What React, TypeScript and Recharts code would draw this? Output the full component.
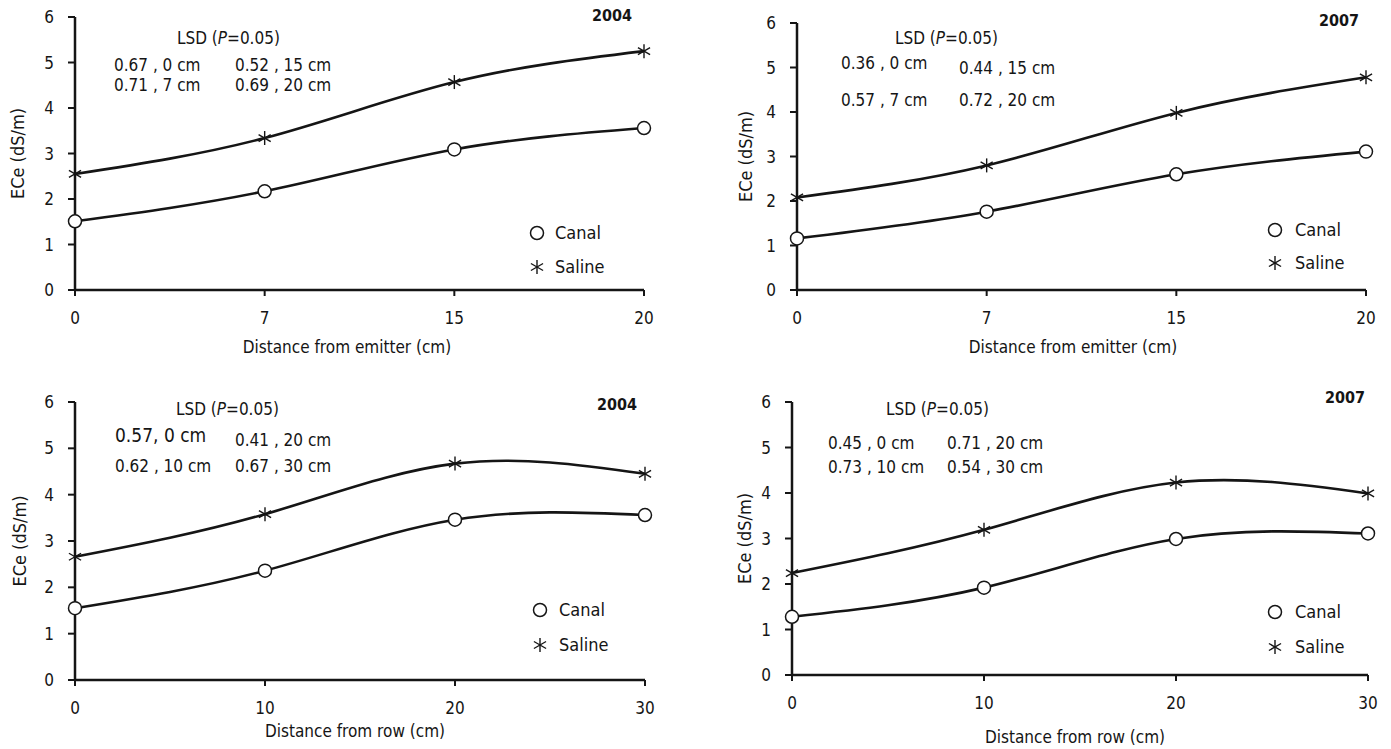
import React from 'react';
import { LineChart, Line, XAxis, YAxis, Label } from 'recharts';

// categories (x) and y ticks
const emitterCats = ['0', '7', '15', '20'];
const rowCats = ['0', '10', '20', '30'];
const yTicks = [0, 1, 2, 3, 4, 5, 6];

// ECe (dS/m)
const canalEmitter2004 = [1.51, 2.17, 3.09, 3.56];
const salineEmitter2004 = [2.55, 3.34, 4.57, 5.25];
const canalEmitter2007 = [1.16, 1.76, 2.6, 3.11];
const salineEmitter2007 = [2.08, 2.8, 3.98, 4.78];
const canalRow2004 = [1.55, 2.36, 3.46, 3.56];
const salineRow2004 = [2.66, 3.58, 4.67, 4.45];
const canalRow2007 = [1.28, 1.92, 2.99, 3.11];
const salineRow2007 = [2.24, 3.19, 4.23, 3.99];

// LSD notes [column][row]
const lsdEmitter2004 = [['0.67 , 0 cm', '0.71 , 7 cm'], ['0.52 , 15 cm', '0.69 , 20 cm']];
const lsdEmitter2007 = [['0.36 , 0 cm', '0.57 , 7 cm'], ['0.44 , 15 cm', '0.72 , 20 cm']];
const lsdRow2004 = [['0.57, 0 cm', '0.62 , 10 cm'], ['0.41 , 20 cm', '0.67 , 30 cm']];
const lsdRow2007 = [['0.45 , 0 cm', '0.73 , 10 cm'], ['0.71 , 20 cm', '0.54 , 30 cm']];

const FONT = "'Liberation Sans Narrow', 'Arial Narrow', 'DejaVu Sans Condensed', 'Liberation Sans', sans-serif";
const INK = '#151515';

const panels = [
  {
    cats: emitterCats, canal: canalEmitter2004, saline: salineEmitter2004, lsd: lsdEmitter2004,
    year: '2004', xTitle: 'Distance from emitter (cm)',
    x0: 75, x1: 644, yt: 17, yb: 290, yLabX: 17, titlePos: [347, 347],
    yearPos: [632, 16], lsdPos: [177, 38], colX: [114, 235], rowY: [[65, 85], [65, 85]], firstBig: false,
    legend: [537, 555, 233, 267],
  },
  {
    cats: emitterCats, canal: canalEmitter2007, saline: salineEmitter2007, lsd: lsdEmitter2007,
    year: '2007', xTitle: 'Distance from emitter (cm)',
    x0: 797, x1: 1366, yt: 23, yb: 290, yLabX: 745, titlePos: [1073, 347],
    yearPos: [1359, 21], lsdPos: [895, 38], colX: [841, 959], rowY: [[63, 100], [68, 100]], firstBig: false,
    legend: [1275, 1295, 230, 263],
  },
  {
    cats: rowCats, canal: canalRow2004, saline: salineRow2004, lsd: lsdRow2004,
    year: '2004', xTitle: 'Distance from row (cm)',
    x0: 75, x1: 645, yt: 402, yb: 680, yLabX: 19, titlePos: [355, 731],
    yearPos: [637, 405], lsdPos: [176, 409], colX: [115, 235], rowY: [[435, 466], [440, 466]], firstBig: true,
    legend: [540, 559, 610, 645],
  },
  {
    cats: rowCats, canal: canalRow2007, saline: salineRow2007, lsd: lsdRow2007,
    year: '2007', xTitle: 'Distance from row (cm)',
    x0: 792, x1: 1368, yt: 402, yb: 675, yLabX: 744, titlePos: [1075, 737],
    yearPos: [1365, 398], lsdPos: [886, 409], colX: [828, 947], rowY: [[443, 467], [443, 467]], firstBig: false,
    legend: [1275, 1295, 612, 647],
  },
];

const CircleDot = (props: any) => {
  const { cx, cy, index } = props;
  if (cx == null || cy == null) return null;
  return <circle key={index} cx={cx} cy={cy} r={6.5} fill="#fff" stroke={INK} strokeWidth={1.5} />;
};

const StarDot = (props: any) => {
  const { cx, cy, index } = props;
  if (cx == null || cy == null) return null;
  const r = 7;
  const a = r * Math.cos(Math.PI / 6);
  const b = r * 0.5;
  return (
    <g key={index} stroke={INK} strokeWidth={1.4}>
      <line x1={cx} y1={cy - r} x2={cx} y2={cy + r} />
      <line x1={cx - a} y1={cy - b} x2={cx + a} y2={cy + b} />
      <line x1={cx - a} y1={cy + b} x2={cx + a} y2={cy - b} />
    </g>
  );
};

const txt = (left: number, cy: number, size: number, content: React.ReactNode, extra: any = {}) => (
  <div
    style={{
      position: 'absolute', left, top: cy - size / 2, fontSize: size, lineHeight: `${size}px`,
      whiteSpace: 'nowrap', color: INK, fontFamily: FONT, ...extra,
    }}
  >
    {content}
  </div>
);

function Panel({ p }: { p: any }) {
  const data = p.cats.map((c: string, i: number) => ({ x: c, canal: p.canal[i], saline: p.saline[i] }));
  const left = p.x0 - 75;
  const top = p.yt - 20;
  const W = p.x1 - p.x0 + 75 + 30;
  const H = p.yb - p.yt + 20 + 30 + 50;
  const tickStyle = { fill: INK, fontSize: 17, fontFamily: FONT };
  return (
    <>
      <div style={{ position: 'absolute', left, top }}>
        <LineChart width={W} height={H} data={data} margin={{ top: 20, right: 30, left: 15, bottom: 50 }}>
          <XAxis
            dataKey="x"
            height={30}
            tickSize={6}
            tickMargin={16}
            axisLine={{ stroke: INK, strokeWidth: 2.5 }}
            tickLine={{ stroke: INK, strokeWidth: 2 }}
            tick={tickStyle}
          >
            <Label
              content={() => (
                <text x={p.titlePos[0] - left} y={p.titlePos[1] - top} textAnchor="middle" dominantBaseline="central"
                  fill={INK} fontSize={17} fontFamily={FONT}>
                  {p.xTitle}
                </text>
              )}
            />
          </XAxis>
          <YAxis
            domain={[0, 6]}
            ticks={yTicks}
            width={60}
            tickSize={7}
            tickMargin={14}
            axisLine={{ stroke: INK, strokeWidth: 2.5 }}
            tickLine={{ stroke: INK, strokeWidth: 2 }}
            tick={tickStyle}
          >
            <Label
              content={() => (
                <text transform={`translate(${p.yLabX - left},${(p.yt + p.yb) / 2 - top}) rotate(-90)`}
                  textAnchor="middle" dominantBaseline="central" fill={INK} fontSize={18} fontFamily={FONT}>
                  ECe (dS/m)
                </text>
              )}
            />
          </YAxis>
          <Line type="natural" dataKey="canal" stroke={INK} strokeWidth={2.6} dot={CircleDot} activeDot={false} isAnimationActive={false} />
          <Line type="natural" dataKey="saline" stroke={INK} strokeWidth={2.6} dot={StarDot} activeDot={false} isAnimationActive={false} />
        </LineChart>
      </div>
      {txt(p.yearPos[0] - 45, p.yearPos[1], 16, p.year, { fontWeight: 'bold', width: 45, textAlign: 'right' })}
      {txt(p.lsdPos[0], p.lsdPos[1], 17, <>LSD (<i>P</i>=0.05)</>)}
      {p.lsd.map((col: string[], ci: number) =>
        col.map((s: string, ri: number) =>
          <React.Fragment key={`${ci}-${ri}`}>
            {txt(p.colX[ci], p.rowY[ci][ri], p.firstBig && ci === 0 && ri === 0 ? 19 : 17, s)}
          </React.Fragment>
        )
      )}
      <svg style={{ position: 'absolute', left: p.legend[0] - 9, top: p.legend[2] - 9 }} width={18} height={18}>
        <CircleDot cx={9} cy={9} />
      </svg>
      <svg style={{ position: 'absolute', left: p.legend[0] - 9, top: p.legend[3] - 9 }} width={18} height={18}>
        <StarDot cx={9} cy={9} />
      </svg>
      {txt(p.legend[1], p.legend[2], 18, 'Canal')}
      {txt(p.legend[1], p.legend[3], 18, 'Saline')}
    </>
  );
}

export default function App() {
  return (
    <div style={{ position: 'absolute', left: 0, top: 0, width: 1391, height: 749, background: '#fff', overflow: 'hidden', fontFamily: FONT }}>
      {panels.map((p, i) => <Panel key={i} p={p} />)}
    </div>
  );
}
